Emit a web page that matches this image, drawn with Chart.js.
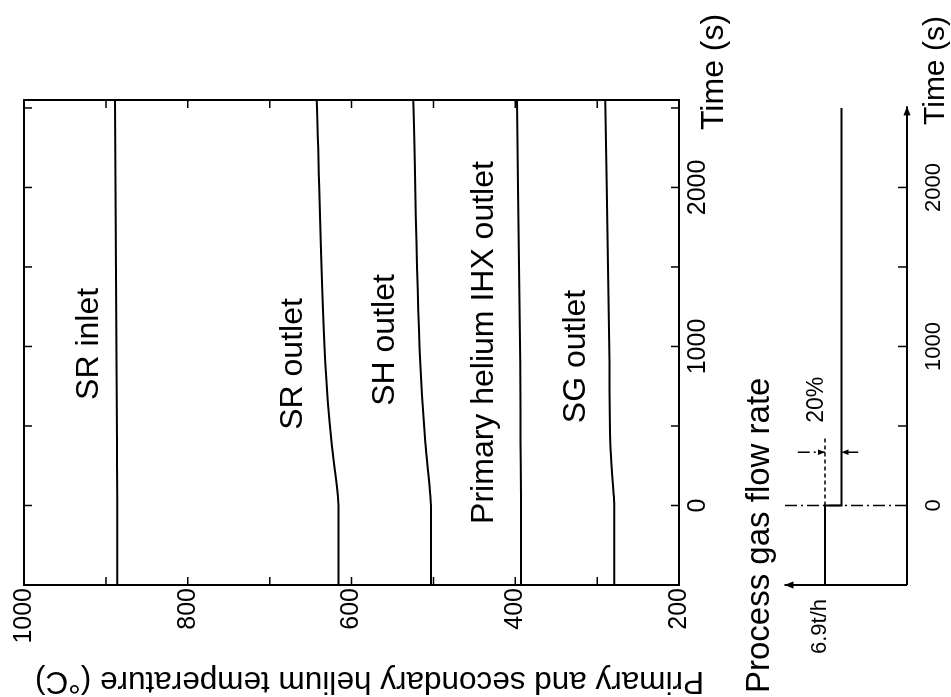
<!DOCTYPE html>
<html>
<head>
<meta charset="utf-8">
<title>Helium temperatures after process gas flow step</title>
<script src="https://cdn.jsdelivr.net/npm/chart.js@4.4.0/dist/chart.umd.min.js"></script>
<style>
    html, body { margin: 0; padding: 0; background: #fff; overflow: hidden; }
    /* the figure is laid out upright, then turned a quarter turn counter-clockwise */
    #figure { position: absolute; left: 0; top: 697px; width: 697px; height: 951px;
              transform-origin: 0 0; transform: rotate(-90deg); background: #fff; }
    #tempChart { position: absolute; left: 0; top: 0; }
    #flowChart { position: absolute; left: 0; top: 730px; }
</style>
</head>
<body>
<div id="figure">
    <canvas id="tempChart" width="697" height="730"></canvas>
    <canvas id="flowChart" width="697" height="221"></canvas>
</div>
<script>
// temperatures (degC)
const curveTimes = [-500, 0, 50, 400, 900, 2550];
const srInlet   = [886, 886, 886, 886.5, 887, 889];
const srOutlet  = [616, 616, 616.5, 624.5, 632, 642.5];
const shOutlet  = [503, 503, 503.5, 510, 516, 524.5];
const ihxOutlet = [393, 393, 393, 393.5, 394, 398];
const sgOutlet  = [279, 279, 279.5, 284, 285, 290];

// curve names and where they sit (time, temperature)
const curveNames = ['SR inlet', 'SR outlet', 'SH outlet', 'Primary helium IHX outlet', 'SG outlet'];
const nameTimes  = [1016, 890, 1041, 1025, 937];
const nameTemps  = [921, 671.5, 559, 438, 326];

// tick marks and tick labels
const timeTicks  = [-500, 0, 500, 1000, 1500, 2000, 2500];
const timeLabels = [0, 1000, 2000];
const tempTicks  = [200, 300, 400, 500, 600, 700, 800, 900, 1000];
const tempLabels = [200, 400, 600, 800, 1000];
const flowTicks  = [500, 1000, 1500, 2000];

// process gas flow rate (t/h), 20% step down at t = 0
const flowTimes = [-500, 0, 0, 2500];
const flowRates = [6.9, 6.9, 5.52, 5.52];
const oldRateTimes = [0, 430];
const oldRate = [6.9, 6.9];
const arrowTime = 335;
const arrowFrom = [9.2, 4.1];
const arrowTo = [6.9, 5.52];

const FONT = '"Liberation Sans", Arial, Helvetica, sans-serif';
Chart.defaults.font.family = FONT;
Chart.defaults.color = '#000';

function toPoints(xs, ys) {
    let pts = [];
    for (let k = 0; k < xs.length; k++) {
        pts.push({x: xs[k], y: ys[k]});
    }
    return pts;
}

function curve(values) {
    return {
        data: toPoints(curveTimes, values),
        borderColor: '#000',
        borderWidth: 2,
        pointRadius: 0,
        cubicInterpolationMode: 'monotone'
    };
}

function onlyTicks(values) {
    return function(scale) {
        scale.ticks = values.map((v) => ({value: v}));
    };
}

// plain numbers, no thousands separator
function plainLabel(value, index, ticks) {
    return String(ticks[index].value);
}

function arrow(ctx, x1, y1, x2, y2, size) {
    let ang = Math.atan2(y2 - y1, x2 - x1);
    ctx.beginPath();
    ctx.moveTo(x1, y1);
    ctx.lineTo(x2, y2);
    ctx.stroke();
    ctx.beginPath();
    ctx.moveTo(x2, y2);
    ctx.lineTo(x2 - size * Math.cos(ang) + size * 0.4 * Math.sin(ang), y2 - size * Math.sin(ang) - size * 0.4 * Math.cos(ang));
    ctx.lineTo(x2 - size * Math.cos(ang) - size * 0.4 * Math.sin(ang), y2 - size * Math.sin(ang) + size * 0.4 * Math.cos(ang));
    ctx.closePath();
    ctx.fill();
}

// frame with inward ticks on all four sides, curve names and titles
const tempFrame = {
    id: 'tempFrame',
    afterDatasetsDraw(chart) {
        const ctx = chart.ctx;
        const a = chart.chartArea;
        const xs = chart.scales.x, ys = chart.scales.y;
        ctx.save();
        ctx.strokeStyle = '#000';
        ctx.fillStyle = '#000';
        ctx.lineWidth = 2;
        ctx.strokeRect(a.left, a.top, a.right - a.left, a.bottom - a.top);
        ctx.lineWidth = 1.5;
        ctx.beginPath();
        timeTicks.forEach(function(t) {
            let p = xs.getPixelForValue(t);
            ctx.moveTo(p, a.bottom); ctx.lineTo(p, a.bottom - 8);
            ctx.moveTo(p, a.top); ctx.lineTo(p, a.top + 8);
        });
        tempTicks.forEach(function(t) {
            let p = ys.getPixelForValue(t);
            ctx.moveTo(a.left, p); ctx.lineTo(a.left + 8, p);
            ctx.moveTo(a.right, p); ctx.lineTo(a.right - 8, p);
        });
        ctx.stroke();

        ctx.font = '32px ' + FONT;
        ctx.textAlign = 'center';
        ctx.textBaseline = 'middle';
        for (let k = 0; k < curveNames.length; k++) {
            ctx.fillText(curveNames[k], xs.getPixelForValue(nameTimes[k]), ys.getPixelForValue(nameTemps[k]));
        }

        ctx.textAlign = 'left';
        ctx.textBaseline = 'alphabetic';
        ctx.fillText('Time (s)', a.right - 30, a.bottom + 44);

        ctx.translate(25, (a.top + a.bottom) / 2 + 18);
        ctx.rotate(-Math.PI / 2);
        ctx.textAlign = 'center';
        ctx.font = '31.5px ' + FONT;
        ctx.fillText('Primary and secondary helium temperature (\u00b0C)', 0, 0);
        ctx.restore();
    }
};

// arrowed axes, step marker lines and texts of the flow rate sketch
const flowAxes = {
    id: 'flowAxes',
    afterDatasetsDraw(chart) {
        const ctx = chart.ctx;
        const xs = chart.scales.x, ys = chart.scales.y;
        const x0 = xs.getPixelForValue(-500), y0 = ys.getPixelForValue(0);
        ctx.save();
        ctx.strokeStyle = '#000';
        ctx.fillStyle = '#000';
        ctx.lineWidth = 2;
        arrow(ctx, x0, y0, xs.getPixelForValue(2510), y0, 9);
        arrow(ctx, x0, y0, x0, ys.getPixelForValue(10.3), 9);

        ctx.lineWidth = 1.5;
        ctx.beginPath();
        flowTicks.forEach(function(t) {
            let p = xs.getPixelForValue(t);
            ctx.moveTo(p, y0); ctx.lineTo(p, y0 - 9);
        });
        ctx.stroke();

        // dash-dot line at the moment of the step
        ctx.setLineDash([12, 4, 2, 4]);
        ctx.beginPath();
        ctx.moveTo(xs.getPixelForValue(0), y0);
        ctx.lineTo(xs.getPixelForValue(0), ys.getPixelForValue(10.3));
        ctx.stroke();

        // 20% dimension arrows
        let ax = xs.getPixelForValue(arrowTime);
        for (let k = 0; k < arrowFrom.length; k++) {
            arrow(ctx, ax, ys.getPixelForValue(arrowFrom[k]), ax, ys.getPixelForValue(arrowTo[k]), 7);
        }
        ctx.setLineDash([]);

        ctx.textAlign = 'left';
        ctx.textBaseline = 'alphabetic';
        ctx.font = '23px ' + FONT;
        ctx.fillText('20%', xs.getPixelForValue(520), ys.getPixelForValue(7.1));

        ctx.textAlign = 'right';
        ctx.textBaseline = 'middle';
        ctx.font = '22px ' + FONT;
        ctx.fillText('6.9t/h', x0 - 14, ys.getPixelForValue(7.3));

        ctx.textAlign = 'left';
        ctx.textBaseline = 'alphabetic';
        ctx.font = '33px ' + FONT;
        ctx.fillText('Process gas flow rate', 4, 39);
        ctx.font = '30px ' + FONT;
        ctx.fillText('Time (s)', xs.getPixelForValue(2550) - 25, 214);
        ctx.restore();
    }
};

function fixedWidth(w) {
    return function(scale) { scale.width = w; };
}
function fixedHeight(h) {
    return function(scale) { scale.height = h; };
}

function initialize() {
    new Chart(document.getElementById('tempChart'), {
        type: 'line',
        data: {
            datasets: [curve(srInlet), curve(srOutlet), curve(shOutlet), curve(ihxOutlet), curve(sgOutlet)]
        },
        options: {
            responsive: false,
            animation: false,
            layout: { padding: { left: 0, top: 24, right: 100, bottom: 0 } },
            plugins: { legend: { display: false }, tooltip: { enabled: false } },
            scales: {
                x: {
                    type: 'linear', min: -500, max: 2550,
                    grid: { display: false, drawTicks: false },
                    border: { display: false },
                    afterBuildTicks: onlyTicks(timeLabels),
                    afterFit: fixedHeight(51),
                    ticks: { autoSkip: false, maxRotation: 0, padding: 4, font: { size: 25 }, callback: plainLabel }
                },
                y: {
                    type: 'linear', min: 200, max: 1000,
                    grid: { display: false, drawTicks: false },
                    border: { display: false },
                    afterBuildTicks: onlyTicks(tempLabels),
                    afterFit: fixedWidth(112),
                    ticks: { autoSkip: false, padding: 3, font: { size: 25 }, callback: plainLabel }
                }
            }
        },
        plugins: [tempFrame]
    });

    new Chart(document.getElementById('flowChart'), {
        type: 'line',
        data: {
            datasets: [
                { data: toPoints(flowTimes, flowRates), borderColor: '#000', borderWidth: 2, pointRadius: 0 },
                { data: toPoints(oldRateTimes, oldRate), borderColor: '#000', borderWidth: 1.5, borderDash: [4, 3], pointRadius: 0 }
            ]
        },
        options: {
            responsive: false,
            animation: false,
            layout: { padding: { left: 0, top: 54.6, right: 100, bottom: 0 } },
            plugins: { legend: { display: false }, tooltip: { enabled: false } },
            scales: {
                x: {
                    type: 'linear', min: -500, max: 2550,
                    grid: { display: false, drawTicks: false },
                    border: { display: false },
                    afterBuildTicks: onlyTicks(timeLabels),
                    afterFit: fixedHeight(44),
                    ticks: { autoSkip: false, maxRotation: 0, padding: 14, font: { size: 22 }, callback: plainLabel }
                },
                y: {
                    type: 'linear', min: 0, max: 10.3,
                    grid: { display: false, drawTicks: false },
                    border: { display: false },
                    afterFit: fixedWidth(112),
                    ticks: { display: false }
                }
            }
        },
        plugins: [flowAxes]
    });
}

window.onload = initialize;
</script>
</body>
</html>
